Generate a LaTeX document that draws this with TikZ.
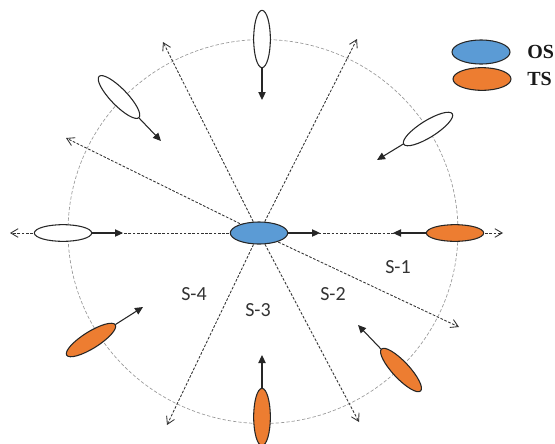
\documentclass[tikz,border=0pt]{standalone}
\usepackage{fontspec}
\setmainfont{Liberation Serif}
\newfontfamily\labelfont{Carlito}
\usetikzlibrary{shapes.geometric,arrows.meta}
\definecolor{osblue}{HTML}{5B9BD5}
\definecolor{tsorange}{HTML}{ED7D31}

\tikzset{
    ship/.style={
      ellipse,
      draw=black!85,
      line width=0.8pt,
      inner sep=0pt,
      minimum width=43pt,
      minimum height=12.5pt
    },
    own ship/.style={
      ship,
      fill=osblue,
      minimum height=16.5pt
    },
    target ship/.style={
      ship,
      fill=tsorange
    },
    other ship/.style={
      ship,
      fill=white
    },
    ray/.style={
      draw=black!80,
      line width=0.65pt,
      dash pattern=on 2pt off 1.2pt,
      -{Straight Barb[length=5.5pt,width=6.5pt]}
    },
    heading/.style={
      draw=black!85,
      line width=0.8pt,
      -{Triangle[length=6pt,width=5.5pt]}
    },
    range ring/.style={
      draw=black!40,
      line width=0.5pt,
      dash pattern=on 2.5pt off 1.5pt
    },
    sector label/.style={
      font=\labelfont\fontsize{15}{18}\selectfont,
      text=black!80
    },
    legend label/.style={
      font=\bfseries\fontsize{15}{18}\selectfont,
      text=black!90,
      anchor=west,
      inner sep=0pt
    }
  }

\begin{document}
\begin{tikzpicture}[x=0.75pt, y=-0.75pt]
      \useasboundingbox (0,0) rectangle (555,443);

      % 距離円
      \draw[range ring] (263,231.5) ellipse [x radius=195, y radius=192];

      % 方位線
      \coordinate (o) at (259,233);
      \coordinate (r1) at (163,42);
      \coordinate (r2) at (66,138);
      \coordinate (r3) at (357,39);
      \coordinate (r4) at (459,327);
      \coordinate (r5) at (359,422);
      \coordinate (r6) at (167,425);
      \coordinate (r7) at (10,233);
      \coordinate (r8) at (503,233);
      \foreach \r in {r1,r2,r3,r4,r5,r6,r7,r8}
        \draw[ray] (o) -- (\r);

      % 船
      \node[own ship] (os) at (o) {};
      \node[other ship] (w) at (63,233) {};
      \node[target ship] (e) at (455,233) {};
      \node[other ship, rotate=90] (n) at (262,39) {};
      \node[other ship, rotate=-46] (nw) at (119,97) {};
      \node[other ship, rotate=32] (ne) at (428,129) {};
      \node[target ship, rotate=32] (sw) at (91,340) {};
      \node[target ship, rotate=90] (s) at (262,417) {};
      \node[target ship, rotate=-47] (se) at (401,370) {};

      % 針路
      \coordinate (os h) at (320,233);
      \coordinate (w h) at (123,233);
      \coordinate (e h) at (393,233);
      \coordinate (n h) at (262,100);
      \coordinate (nw h) at (161,141);
      \coordinate (ne h) at (377,160);
      \coordinate (sw h) at (143,307);
      \coordinate (s h) at (262,355);
      \coordinate (se h) at (358,325);
      \foreach \v in {os,w,e,n,nw,ne,sw,s,se}
        \draw[heading] (\v) -- (\v\space h);

      % ラベル
      \node[sector label] (s1) at (398,267) {S-1};
      \node[sector label] (s2) at (333,294) {S-2};
      \node[sector label] (s3) at (258,310) {S-3};
      \node[sector label] (s4) at (194,294) {S-4};

      % 凡例
      \node[own ship, minimum width=43.5pt, minimum height=18pt] (os key) at (481,52) {};
      \node[target ship, minimum width=43.5pt, minimum height=17pt] (ts key) at (482,79) {};
      \node[legend label] (os text) at (527,52) {OS};
      \node[legend label] (ts text) at (527,79) {TS};
    \end{tikzpicture}
\end{document}
